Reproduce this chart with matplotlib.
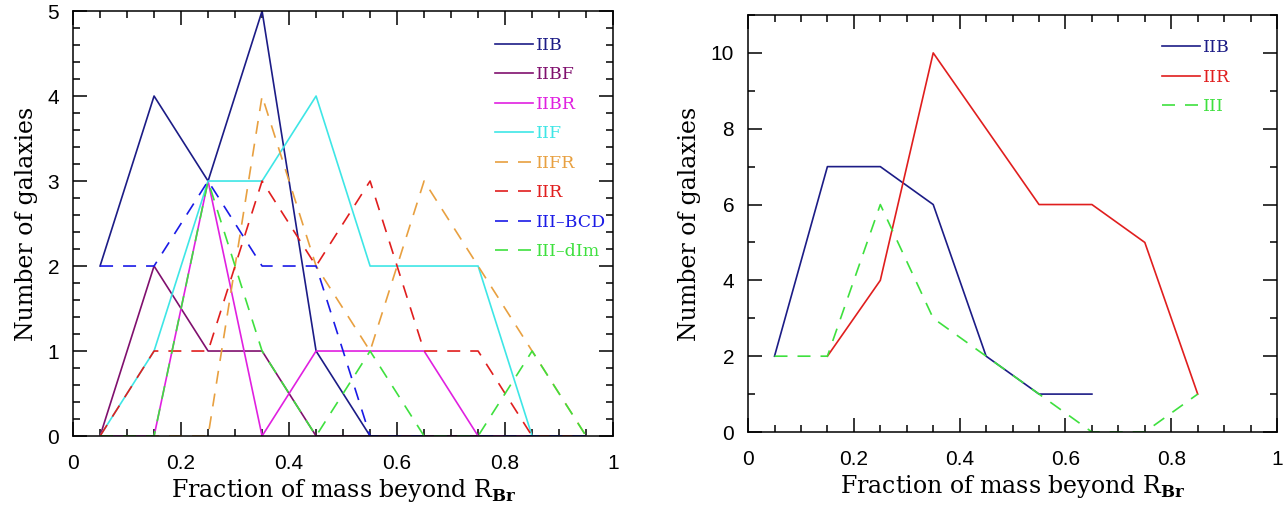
import numpy as np
import matplotlib
matplotlib.use("Agg")
import matplotlib.pyplot as plt
from matplotlib.ticker import MultipleLocator

plt.rcParams["font.family"] = "Liberation Sans"
plt.rcParams["mathtext.fontset"] = "custom"
plt.rcParams["mathtext.rm"] = "DejaVu Serif"
plt.rcParams["mathtext.bf"] = "DejaVu Serif:bold"

# histogram bin centres
bin_centres = [0.05, 0.15, 0.25, 0.35, 0.45, 0.55, 0.65, 0.75, 0.85, 0.95]

# left panel: counts per profile subtype
iib = [2, 4, 3, 5, 1, 0, 0, 0, 0, 0]
iibf = [0, 2, 1, 1, 0, 0, 0, 0, 0, 0]
iibr = [0, 0, 3, 0, 1, 1, 1, 0, 0, 0]
iif = [0, 1, 3, 3, 4, 2, 2, 2, 0, 0]
iifr = [0, 0, 0, 4, 2, 1, 3, 2, 1, 0]
iir = [0, 1, 1, 3, 2, 3, 1, 1, 0, 0]
iii_bcd = [2, 2, 3, 2, 2, 0, 0, 0, 0, 0]
iii_dim = [0, 0, 3, 1, 0, 1, 0, 0, 1, 0]

# right panel: counts per main profile type
x_iib = [0.05, 0.15, 0.25, 0.35, 0.45, 0.55, 0.65]
n_iib = [2, 7, 7, 6, 2, 1, 1]
x_iir = [0.15, 0.25, 0.35, 0.45, 0.55, 0.65, 0.75, 0.85]
n_iir = [2, 4, 10, 8, 6, 6, 5, 1]
x_iii = [0.05, 0.15, 0.25, 0.35, 0.45, 0.55, 0.65, 0.75, 0.85]
n_iii = [2, 2, 6, 3, 2, 1, 0, 0, 1]

NAVY = "#1c1c86"
PURPLE = "#80106e"
MAGENTA = "#e020e0"
CYAN = "#3ee6e6"
ORANGE = "#e8a040"
RED = "#e01e1e"
BLUE = "#1a1ae6"
GREEN = "#3ee03e"

LW = 1.2
DASH = (7.8, 6)

left_series = [
    ("IIB", iib, NAVY, "-"),
    ("IIBF", iibf, PURPLE, "-"),
    ("IIBR", iibr, MAGENTA, "-"),
    ("IIF", iif, CYAN, "-"),
    ("IIFR", iifr, ORANGE, "--"),
    ("IIR", iir, RED, "--"),
    ("III\u2013BCD", iii_bcd, BLUE, "--"),
    ("III\u2013dIm", iii_dim, GREEN, "--"),
]

right_series = [
    ("IIB", x_iib, n_iib, NAVY, "-"),
    ("IIR", x_iir, n_iir, RED, "-"),
    ("III", x_iii, n_iii, GREEN, "--"),
]

XLABEL = r"Fraction of mass beyond $\mathrm{R}_{\mathbf{Br}}$"
YLABEL = "Number of galaxies"


def style_axes(ax, ymax, ymajor, yminor):
    ax.set_xlim(0, 1)
    ax.set_ylim(0, ymax)
    ax.xaxis.set_major_locator(MultipleLocator(0.2))
    ax.xaxis.set_minor_locator(MultipleLocator(0.05))
    ax.yaxis.set_major_locator(MultipleLocator(ymajor))
    ax.yaxis.set_minor_locator(MultipleLocator(yminor))
    ax.xaxis.set_major_formatter(lambda v, pos: "%g" % round(v, 2))
    ax.tick_params(which="both", direction="in", top=True, right=True,
                   width=1.1, labelsize=15)
    ax.tick_params(which="major", length=10)
    ax.tick_params(which="minor", length=5)
    ax.tick_params(axis="x", pad=13)
    ax.tick_params(axis="y", pad=10)
    for sp in ax.spines.values():
        sp.set_linewidth(1.1)
    ax.set_xlabel(XLABEL, family="DejaVu Serif", fontsize=17, labelpad=3)
    ax.set_ylabel(YLABEL, family="DejaVu Serif", fontsize=17, labelpad=7)


def add_line(ax, x, y, color, ls, label):
    kw = dict(color=color, lw=LW, label=label)
    if ls == "--":
        kw["dashes"] = DASH
    ax.plot(x, y, **kw)


fig = plt.figure(figsize=(12.84, 5.08), dpi=100)
ax1 = fig.add_axes([0.0569, 0.1417, 0.4206, 0.8366])
ax2 = fig.add_axes([0.5826, 0.1496, 0.412, 0.8209])

for label, counts, color, ls in left_series:
    add_line(ax1, bin_centres, counts, color, ls, label)
style_axes(ax1, 5, 1, 0.2)

for label, x, counts, color, ls in right_series:
    add_line(ax2, x, counts, color, ls, label)
style_axes(ax2, 11, 2, 1)

for ax, anchor in ((ax1, (0.769, 0.956)), (ax2, (0.769, 0.958))):
    ax.legend(loc="upper left", bbox_to_anchor=anchor, frameon=False,
              handlelength=2.2, handletextpad=0.15, labelspacing=0.72,
              labelcolor="linecolor", borderaxespad=0,
              prop={"family": "DejaVu Serif", "size": 12.5})

fig.savefig("out.png", dpi=100)
